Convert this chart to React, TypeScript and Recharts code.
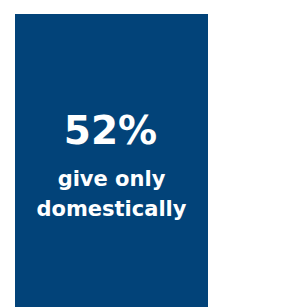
import React from 'react';
import { BarChart, Bar, XAxis, YAxis, LabelList } from 'recharts';

const categories = ['Give only domestically'];
const values = [52];
const labelLines = ['give only', 'domestically'];

const data = categories.map((c, i) => ({ name: c, value: values[i] }));

const renderLabel = (props: any) => {
  const { x, width, value } = props;
  const cx = x + width / 2;
  return (
    <g fontFamily="'DejaVu Sans', sans-serif" fontWeight={700} fill="#ffffff" textAnchor="middle">
      <text x={cx - 1} y={144} fontSize={39} fill="#ffffff">{`${value}%`}</text>
      <text x={cx} y={186} fontSize={21} fill="#ffffff">{labelLines[0]}</text>
      <text x={cx} y={216} fontSize={21} fill="#ffffff">{labelLines[1]}</text>
    </g>
  );
};

export default function App() {
  return (
    <div style={{ position: 'absolute', left: 0, top: 0, width: 295, height: 307, background: '#fff' }}>
      <BarChart
        width={295}
        height={307}
        data={data}
        margin={{ top: 14, right: 87, bottom: 0, left: 15 }}
        barCategoryGap={0}
      >
        <XAxis dataKey="name" hide />
        <YAxis hide domain={[0, 52]} />
        <Bar dataKey="value" fill="#024379" isAnimationActive={false}>
          <LabelList dataKey="value" content={renderLabel} />
        </Bar>
      </BarChart>
    </div>
  );
}
